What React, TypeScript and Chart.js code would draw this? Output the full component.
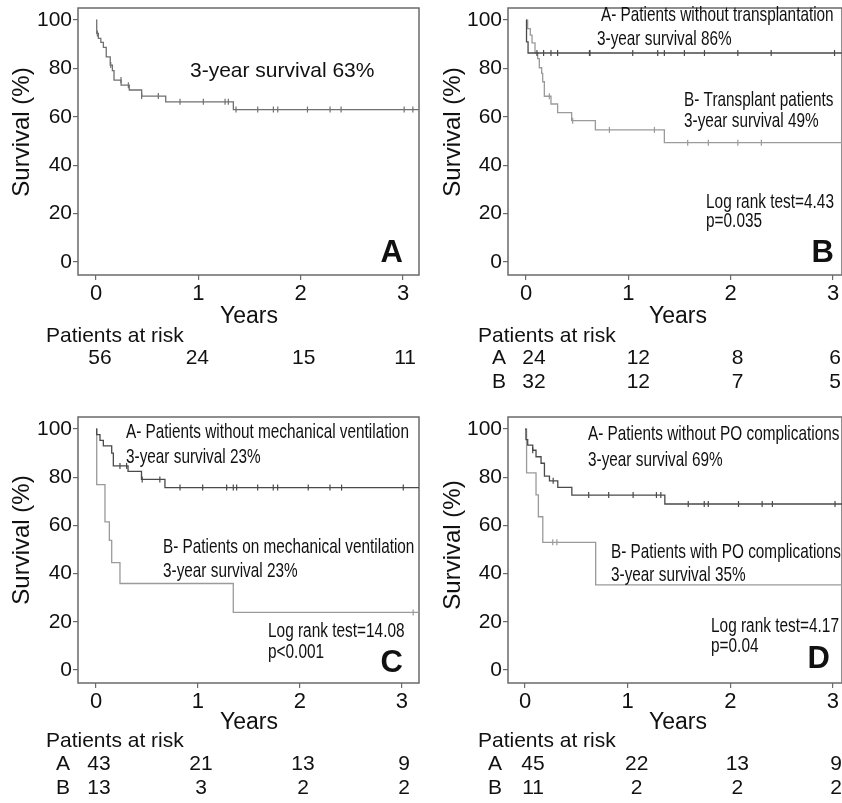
import React, { useEffect, useRef } from 'react';
import { Chart, registerables } from 'chart.js';

Chart.register(...registerables);

// ---------- shared axis data ----------
const X_TICKS = [0, 1, 2, 3];
const X_TICK_LABELS = ['0', '1', '2', '3'];
const Y_TICKS = [0, 20, 40, 60, 80, 100];
const Y_TICK_LABELS = ['0', '20', '40', '60', '80', '100'];
const Y_MIN = -5.4;
const Y_MAX = 105;

// ---------- Panel A: all patients ----------
const A_TIMES = [0, 0.007, 0.023, 0.047, 0.072, 0.1, 0.139, 0.16, 0.176, 0.245, 0.325, 0.446, 0.681, 1.342, 3.17];
const A_SURV = [100, 94.5, 92.4, 90.8, 88.7, 84.8, 81.4, 79.1, 75.2, 73.1, 71.1, 68.6, 66.2, 63.0, 63.0];
const A_CENS = [0.013, 0.144, 0.244, 0.316, 0.446, 0.609, 0.821, 1.049, 1.261, 1.293, 1.368, 1.58, 1.733, 1.776, 2.066, 2.287, 2.395, 3.011, 3.096];
const A_RISK = ['56', '24', '15', '11'];

// ---------- Panel B: transplantation ----------
const B1_TIMES = [0, 0.005, 0.02, 3.1];
const B1_SURV = [100, 91.0, 86.4, 86.4];
const B1_CENS = [0.107, 0.172, 0.244, 0.309, 0.62, 0.625, 1.043, 1.287, 1.352, 1.548, 1.744, 2.07, 2.396, 3.015];
const B2_TIMES = [0, 0.016, 0.042, 0.059, 0.088, 0.114, 0.13, 0.153, 0.163, 0.179, 0.244, 0.309, 0.446, 0.678, 1.352, 3.1];
const B2_SURV = [100, 96.5, 93.8, 90.6, 86.5, 84.1, 80.3, 78.0, 74.5, 68.5, 65.3, 61.7, 58.4, 54.6, 49.3, 49.3];
const B2_CENS = [0.228, 0.456, 0.815, 1.255, 1.58, 1.782, 2.07, 2.3];
const B_RISK_A = ['24', '12', '8', '6'];
const B_RISK_B = ['32', '12', '7', '5'];

// ---------- Panel C: mechanical ventilation ----------
const C1_TIMES = [0, 0.007, 0.039, 0.072, 0.154, 0.17, 0.314, 0.446, 0.676, 3.17];
const C1_SURV = [100, 97.7, 95.3, 93.0, 90.0, 84.7, 82.4, 79.1, 75.7, 75.7];
const C1_CENS = [0.235, 0.3, 0.453, 0.626, 0.824, 1.046, 1.281, 1.346, 1.379, 1.585, 1.738, 1.781, 2.081, 2.294, 2.408, 3.013];
const C2_TIMES = [0, 0.007, 0.088, 0.131, 0.154, 0.235, 1.346, 3.17];
const C2_SURV = [100, 76.9, 61.5, 53.8, 44.6, 35.9, 23.9, 23.9];
const C2_CENS = [3.11];
const C_RISK_A = ['43', '21', '13', '9'];
const C_RISK_B = ['13', '3', '2', '2'];

// ---------- Panel D: PO complications ----------
const D1_TIMES = [0, 0.009, 0.026, 0.075, 0.107, 0.156, 0.189, 0.238, 0.319, 0.456, 1.362, 3.1];
const D1_SURV = [100, 95.6, 93.3, 91.2, 88.5, 85.8, 80.5, 78.5, 75.8, 72.6, 68.9, 68.9];
const D1_CENS = [0.075, 0.274, 0.62, 0.815, 1.053, 1.28, 1.323, 1.59, 1.746, 1.785, 2.08, 2.31, 2.41, 3.02];
const D2_TIMES = [0, 0.015, 0.107, 0.13, 0.173, 0.688, 3.1];
const D2_SURV = [100, 81.8, 72.7, 63.6, 53.0, 35.3, 35.3];
const D2_CENS = [0.27, 0.31];
const D_RISK_A = ['45', '22', '13', '9'];
const D_RISK_B = ['11', '2', '2', '2'];

const FONT = '"Liberation Sans", Arial, Helvetica, sans-serif';
const DARK = '#4a4a4a';
const LIGHT = '#9a9a9a';
const MID = '#707070';
const FRAME = '#6a6a6a';

type Note = { text: string; x: number; y: number; size: number; sx?: number; bold?: boolean; align?: CanvasTextAlign };
type Curve = { times: number[]; surv: number[]; cens: number[]; color: string };
type RiskRow = { label: string; values: string[] };
type PanelCfg = {
  left: number; top: number; w: number; h: number;
  area: { l: number; r: number; t: number; b: number };
  xMin: number; xMax: number;
  curves: Curve[];
  notes: Note[];
  yTitle: { x: number; y: number };
  years: { x: number; y: number };
  riskHeader: { x: number; y: number };
  riskLabelX: number;
  riskRows: RiskRow[];
  riskY: number[];
  riskDx: number[];
};

function survAt(times: number[], surv: number[], t: number): number {
  let v = surv[0];
  for (let i = 0; i < times.length; i++) {
    if (times[i] <= t) v = surv[i];
  }
  return v;
}

function drawText(ctx: CanvasRenderingContext2D, s: string, x: number, y: number, size: number,
  o: { sx?: number; align?: CanvasTextAlign; bold?: boolean; rot?: number; baseline?: CanvasTextBaseline } = {}) {
  ctx.save();
  ctx.font = `${o.bold ? 'bold ' : ''}${size}px ${FONT}`;
  ctx.fillStyle = '#111';
  ctx.textAlign = o.align || 'left';
  ctx.textBaseline = o.baseline || 'alphabetic';
  ctx.translate(x, y);
  if (o.rot) ctx.rotate(o.rot);
  ctx.scale(o.sx || 1, 1);
  ctx.fillText(s, 0, 0);
  ctx.restore();
}

const COND = 0.73;
const TOP_RISK_Y = [364, 388];
const BOT_RISK_Y = [380, 404];

const PANELS: PanelCfg[] = [
  {
    left: 0, top: 0, w: 421, h: 390,
    area: { l: 78, r: 419, t: 8, b: 275 },
    xMin: -0.176, xMax: 3.156,
    curves: [{ times: A_TIMES, surv: A_SURV, cens: A_CENS, color: MID }],
    notes: [
      { text: '3-year survival 63%', x: 190, y: 77, size: 21 },
      { text: 'A', x: 403, y: 262, size: 31, bold: true, align: 'right' },
    ],
    yTitle: { x: 22, y: 132 },
    years: { x: 249, y: 323 },
    riskHeader: { x: 46, y: 342 },
    riskLabelX: 0,
    riskRows: [{ label: '', values: A_RISK }],
    riskY: [TOP_RISK_Y[0]],
    riskDx: [4, -1, 3, 2],
  },
  {
    left: 421, top: 0, w: 421, h: 390,
    area: { l: 87, r: 421, t: 8, b: 275 },
    xMin: -0.176, xMax: 3.088,
    curves: [
      { times: B1_TIMES, surv: B1_SURV, cens: B1_CENS, color: DARK },
      { times: B2_TIMES, surv: B2_SURV, cens: B2_CENS, color: LIGHT },
    ],
    notes: [
      { text: 'A- Patients without transplantation', x: 180, y: 21, size: 21, sx: COND },
      { text: '3-year survival 86%', x: 176, y: 45, size: 21, sx: COND },
      { text: 'B- Transplant patients', x: 263, y: 106, size: 21, sx: COND },
      { text: '3-year survival 49%', x: 263, y: 127, size: 21, sx: COND },
      { text: 'Log rank test=4.43', x: 285, y: 208, size: 20, sx: 0.77 },
      { text: 'p=0.035', x: 285, y: 227, size: 20, sx: 0.77 },
      { text: 'B', x: 413, y: 262, size: 31, bold: true, align: 'right' },
    ],
    yTitle: { x: 32, y: 132 },
    years: { x: 257, y: 323 },
    riskHeader: { x: 57, y: 342 },
    riskLabelX: 71,
    riskRows: [{ label: 'A', values: B_RISK_A }, { label: 'B', values: B_RISK_B }],
    riskY: TOP_RISK_Y,
    riskDx: [8, 10, 7, 2],
  },
  {
    left: 0, top: 390, w: 421, h: 413,
    area: { l: 78, r: 419, t: 27, b: 293 },
    xMin: -0.1765, xMax: 3.167,
    curves: [
      { times: C1_TIMES, surv: C1_SURV, cens: C1_CENS, color: DARK },
      { times: C2_TIMES, surv: C2_SURV, cens: C2_CENS, color: LIGHT },
    ],
    notes: [
      { text: 'A- Patients without mechanical ventilation', x: 126, y: 48, size: 21, sx: COND },
      { text: '3-year survival 23%', x: 126, y: 73, size: 21, sx: COND },
      { text: 'B- Patients on mechanical ventilation', x: 163, y: 163, size: 21, sx: COND },
      { text: '3-year survival 23%', x: 163, y: 187, size: 21, sx: COND },
      { text: 'Log rank test=14.08', x: 268, y: 247, size: 20, sx: 0.77 },
      { text: 'p<0.001', x: 268, y: 268, size: 20, sx: 0.77 },
      { text: 'C', x: 403, y: 282, size: 31, bold: true, align: 'right' },
    ],
    yTitle: { x: 22, y: 150 },
    years: { x: 249, y: 339 },
    riskHeader: { x: 46, y: 357 },
    riskLabelX: 56,
    riskRows: [{ label: 'A', values: C_RISK_A }, { label: 'B', values: C_RISK_B }],
    riskY: BOT_RISK_Y,
    riskDx: [3, 3, 3, 2],
  },
  {
    left: 421, top: 390, w: 421, h: 413,
    area: { l: 87, r: 421, t: 27, b: 293 },
    xMin: -0.166, xMax: 3.088,
    curves: [
      { times: D1_TIMES, surv: D1_SURV, cens: D1_CENS, color: DARK },
      { times: D2_TIMES, surv: D2_SURV, cens: D2_CENS, color: LIGHT },
    ],
    notes: [
      { text: 'A- Patients without PO complications', x: 167, y: 50, size: 21, sx: COND },
      { text: '3-year survival 69%', x: 167, y: 76, size: 21, sx: COND },
      { text: 'B- Patients with PO complications', x: 190, y: 168, size: 21, sx: COND },
      { text: '3-year survival 35%', x: 190, y: 191, size: 21, sx: COND },
      { text: 'Log rank test=4.17', x: 290, y: 242, size: 20, sx: 0.77 },
      { text: 'p=0.04', x: 290, y: 262, size: 20, sx: 0.77 },
      { text: 'D', x: 409, y: 278, size: 31, bold: true, align: 'right' },
    ],
    yTitle: { x: 32, y: 155 },
    years: { x: 257, y: 339 },
    riskHeader: { x: 57, y: 357 },
    riskLabelX: 67,
    riskRows: [{ label: 'A', values: D_RISK_A }, { label: 'B', values: D_RISK_B }],
    riskY: BOT_RISK_Y,
    riskDx: [8, 9, 7, 3],
  },
];

function buildConfig(cfg: PanelCfg): any {
  const datasets: any[] = [];
  cfg.curves.forEach((c) => {
    datasets.push({
      data: c.times.map((t, i) => ({ x: t, y: c.surv[i] })),
      stepped: 'before',
      borderColor: c.color,
      borderWidth: 1.3,
      pointRadius: 0,
      pointHoverRadius: 0,
      fill: false,
    });
    datasets.push({
      data: c.cens.map((t) => ({ x: t, y: survAt(c.times, c.surv, t) })),
      showLine: false,
      pointStyle: 'line',
      rotation: 90,
      pointRadius: 3,
      pointHoverRadius: 3,
      borderColor: c.color,
      pointBorderColor: c.color,
      pointBorderWidth: 1.2,
    });
  });

  const framePlugin = {
    id: 'frame',
    beforeDatasetsDraw(chart: any) {
      const { ctx, chartArea: a } = chart;
      ctx.save();
      ctx.strokeStyle = FRAME;
      ctx.lineWidth = 1.5;
      ctx.strokeRect(a.left, a.top, a.right - a.left, a.bottom - a.top);
      ctx.restore();
    },
  };

  const textPlugin = {
    id: 'texts',
    afterDraw(chart: any) {
      const ctx = chart.ctx as CanvasRenderingContext2D;
      const xs = chart.scales.x;
      cfg.notes.forEach((n) => drawText(ctx, n.text, n.x, n.y, n.size, { sx: n.sx, bold: n.bold, align: n.align }));
      drawText(ctx, 'Survival (%)', cfg.yTitle.x, cfg.yTitle.y, 24, { rot: -Math.PI / 2, align: 'center', baseline: 'middle' });
      drawText(ctx, 'Years', cfg.years.x, cfg.years.y, 23, { align: 'center' });
      drawText(ctx, 'Patients at risk', cfg.riskHeader.x, cfg.riskHeader.y, 21);
      cfg.riskRows.forEach((row, r) => {
        const y = cfg.riskY[r];
        if (row.label) drawText(ctx, row.label, cfg.riskLabelX, y, 21);
        row.values.forEach((v, i) => {
          drawText(ctx, v, xs.getPixelForValue(X_TICKS[i]) + cfg.riskDx[i], y, 21, { align: 'center' });
        });
      });
    },
  };

  return {
    type: 'line',
    data: { datasets },
    options: {
      responsive: false,
      animation: false,
      devicePixelRatio: 1,
      layout: { autoPadding: false, padding: { left: 0, top: cfg.area.t, right: cfg.w - cfg.area.r, bottom: 0 } },
      plugins: { legend: { display: false }, tooltip: { enabled: false }, title: { display: false } },
      scales: {
        x: {
          type: 'linear',
          min: cfg.xMin,
          max: cfg.xMax,
          afterBuildTicks: (s: any) => { s.ticks = X_TICKS.map((v) => ({ value: v })); },
          afterFit: (s: any) => { s.height = cfg.h - cfg.area.b; s.paddingLeft = 0; s.paddingRight = 0; },
          grid: { drawOnChartArea: false, drawTicks: true, tickLength: 5, color: FRAME, lineWidth: 1.2 },
          border: { display: false },
          ticks: {
            font: { family: FONT, size: 22 },
            color: '#111',
            padding: 1,
            maxRotation: 0,
            autoSkip: false,
            callback: (_v: any, i: number) => X_TICK_LABELS[i],
          },
        },
        y: {
          type: 'linear',
          min: Y_MIN,
          max: Y_MAX,
          afterBuildTicks: (s: any) => { s.ticks = Y_TICKS.map((v) => ({ value: v })); },
          afterFit: (s: any) => { s.width = cfg.area.l; s.paddingTop = 0; s.paddingBottom = 0; },
          grid: { drawOnChartArea: false, drawTicks: true, tickLength: 5, color: FRAME, lineWidth: 1.2 },
          border: { display: false },
          ticks: {
            font: { family: FONT, size: 21 },
            color: '#111',
            padding: 1,
            autoSkip: false,
            callback: (_v: any, i: number) => Y_TICK_LABELS[i],
          },
        },
      },
    },
    plugins: [framePlugin, textPlugin],
  };
}

function Panel({ cfg }: { cfg: PanelCfg }) {
  const ref = useRef<HTMLCanvasElement>(null);
  useEffect(() => {
    if (!ref.current) return;
    const chart = new Chart(ref.current, buildConfig(cfg));
    return () => chart.destroy();
  }, [cfg]);
  return (
    <canvas
      ref={ref}
      width={cfg.w}
      height={cfg.h}
      style={{ position: 'absolute', left: cfg.left, top: cfg.top, width: cfg.w, height: cfg.h }}
    />
  );
}

export default function App() {
  return (
    <div style={{ position: 'fixed', left: 0, top: 0, width: 842, height: 803, background: '#fff', overflow: 'hidden' }}>
      {PANELS.map((p, i) => (
        <Panel key={i} cfg={p} />
      ))}
    </div>
  );
}
